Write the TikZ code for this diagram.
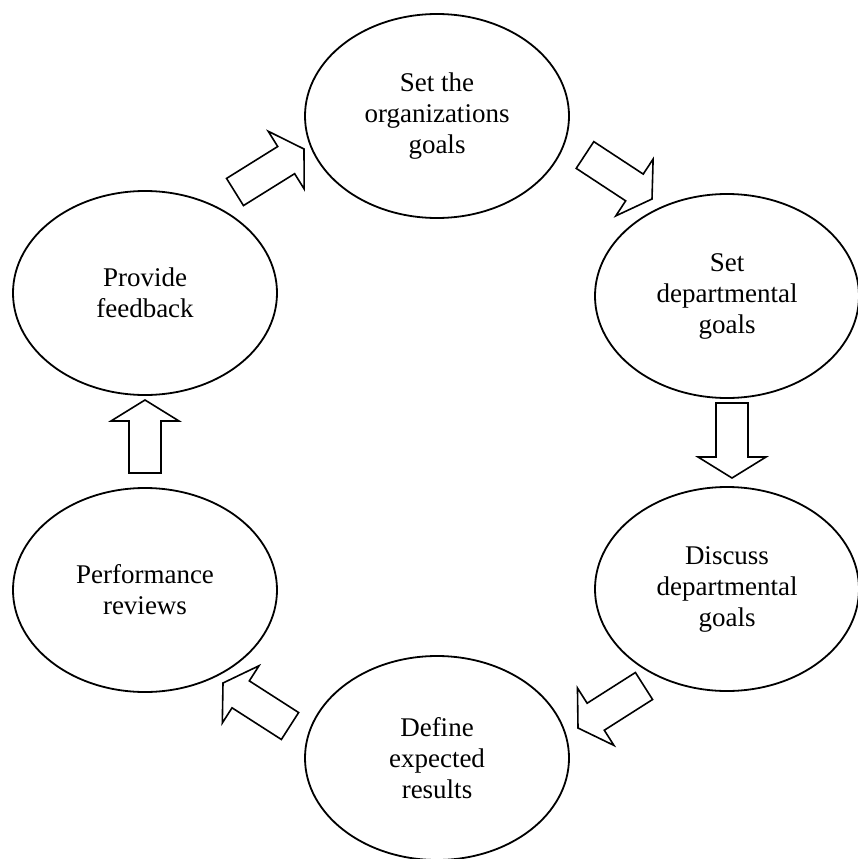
\documentclass[tikz,border=0pt]{standalone}
\usepackage{fontspec}
\setmainfont{Liberation Serif}
\usetikzlibrary{shapes.geometric,calc}
\tikzset{
  stage/.style={ellipse, draw, line width=1.8pt, minimum width=264pt,
    minimum height=204pt, inner sep=0pt, align=center,
    font=\fontsize{27}{31}\selectfont},
  blockarrowline/.style={draw, fill=white, line width=1.6pt, line join=miter},
}
% hollow block arrow from tail coordinate #1 to tip coordinate #2
\newcommand\blockarrow[2]{%
  \coordinate (#1-hb) at ($(#2)!21pt!(#1)$);
  \path[blockarrowline]
    ($(#1)!16pt!90:(#2)$) -- ($(#1-hb)!16pt!90:(#2)$) --
    ($(#1-hb)!34pt!90:(#2)$) -- (#2) --
    ($(#1-hb)!34pt!-90:(#2)$) -- ($(#1-hb)!16pt!-90:(#2)$) --
    ($(#1)!16pt!-90:(#2)$) -- cycle;
}
\begin{document}
\begin{tikzpicture}[x=1pt,y=-1pt]
\useasboundingbox (0,0) rectangle (857,859);

% stages of the cycle
\node[stage] (org)      at (437,116) {Set the\\organizations\\goals};
\node[stage] (setdept)  at (727,296) {Set\\departmental\\goals};
\node[stage] (discuss)  at (727,589) {Discuss\\departmental\\goals};
\node[stage] (define)   at (437,758) {Define\\expected\\results};
\node[stage] (perf)     at (145,590) {Performance\\reviews};
\node[stage] (feedback) at (145,293) {Provide\\feedback};

% arrow ends between the stages
\coordinate (t1) at (235,192); \coordinate (p1) at (304,149);
\coordinate (t2) at (585,155); \coordinate (p2) at (652,199);
\coordinate (t3) at (732,403); \coordinate (p3) at (732,478);
\coordinate (t4) at (644,686); \coordinate (p4) at (578,728);
\coordinate (t5) at (290,726); \coordinate (p5) at (223,683);
\coordinate (t6) at (145,473); \coordinate (p6) at (145,400);

\blockarrow{t1}{p1}
\blockarrow{t2}{p2}
\blockarrow{t3}{p3}
\blockarrow{t4}{p4}
\blockarrow{t5}{p5}
\blockarrow{t6}{p6}
\end{tikzpicture}
\end{document}
